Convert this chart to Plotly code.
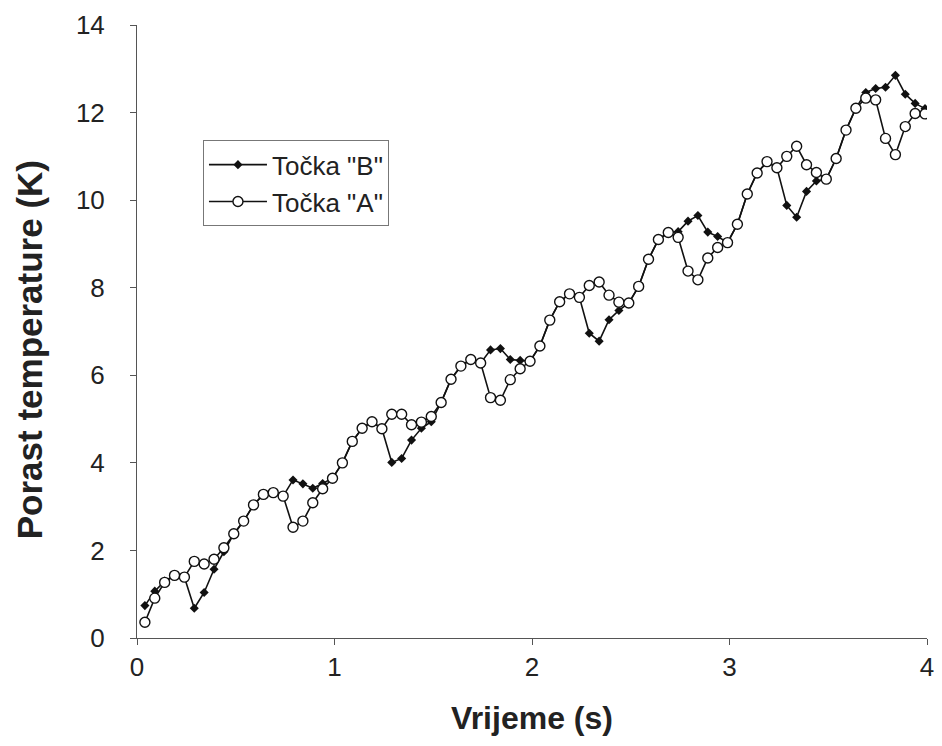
import plotly.graph_objects as go

# time (s)
t = [0.04, 0.09, 0.14, 0.19, 0.24, 0.29, 0.34, 0.39, 0.44, 0.49,
     0.54, 0.59, 0.64, 0.69, 0.74, 0.79, 0.84, 0.89, 0.94, 0.99,
     1.04, 1.09, 1.14, 1.19, 1.24, 1.29, 1.34, 1.39, 1.44, 1.49,
     1.54, 1.59, 1.64, 1.69, 1.74, 1.79, 1.84, 1.89, 1.94, 1.99,
     2.04, 2.09, 2.14, 2.19, 2.24, 2.29, 2.34, 2.39, 2.44, 2.49,
     2.54, 2.59, 2.64, 2.69, 2.74, 2.79, 2.84, 2.89, 2.94, 2.99,
     3.04, 3.09, 3.14, 3.19, 3.24, 3.29, 3.34, 3.39, 3.44, 3.49,
     3.54, 3.59, 3.64, 3.69, 3.74, 3.79, 3.84, 3.89, 3.94, 3.99]

# Točka "B" (filled diamonds)
tocka_b = [0.74, 1.07, 1.30, 1.43, 1.39, 0.68, 1.04, 1.57, 1.97, 2.38,
           2.67, 3.04, 3.28, 3.32, 3.24, 3.61, 3.52, 3.42, 3.53, 3.65,
           4.00, 4.49, 4.79, 4.94, 4.78, 4.01, 4.10, 4.52, 4.79, 4.94,
           5.38, 5.91, 6.21, 6.36, 6.28, 6.58, 6.61, 6.36, 6.34, 6.32,
           6.67, 7.26, 7.68, 7.86, 7.78, 6.96, 6.78, 7.27, 7.48, 7.65,
           8.03, 8.65, 9.10, 9.26, 9.28, 9.52, 9.65, 9.27, 9.17, 9.03,
           9.45, 10.14, 10.62, 10.88, 10.74, 9.88, 9.61, 10.20, 10.44, 10.48,
           10.95, 11.60, 12.10, 12.46, 12.55, 12.58, 12.85, 12.42, 12.21, 12.09]

# Točka "A" (open circles)
tocka_a = [0.36, 0.91, 1.27, 1.43, 1.39, 1.75, 1.69, 1.80, 2.06, 2.38,
           2.67, 3.04, 3.28, 3.32, 3.24, 2.53, 2.67, 3.09, 3.41, 3.65,
           4.00, 4.49, 4.79, 4.94, 4.78, 5.11, 5.11, 4.87, 4.93, 5.06,
           5.38, 5.91, 6.21, 6.36, 6.28, 5.49, 5.43, 5.90, 6.15, 6.32,
           6.67, 7.26, 7.68, 7.86, 7.78, 8.05, 8.13, 7.83, 7.67, 7.65,
           8.03, 8.65, 9.10, 9.26, 9.15, 8.38, 8.18, 8.68, 8.92, 9.03,
           9.45, 10.14, 10.62, 10.88, 10.74, 11.00, 11.23, 10.81, 10.63, 10.48,
           10.95, 11.60, 12.10, 12.33, 12.29, 11.41, 11.04, 11.68, 11.98, 11.97]

x_ticks = [0, 1, 2, 3, 4]
y_ticks = [0, 2, 4, 6, 8, 10, 12, 14]

FONT = "Liberation Sans, Arial, sans-serif"

fig = go.Figure()
fig.add_trace(go.Scatter(
    x=t, y=tocka_b, name='Točka "B"', mode="lines+markers",
    line=dict(color="#111111", width=1.6),
    marker=dict(symbol="diamond", size=7, color="#111111",
                line=dict(color="#111111", width=0)),
))
fig.add_trace(go.Scatter(
    x=t, y=tocka_a, name='Točka "A"', mode="lines+markers",
    line=dict(color="#111111", width=1.6),
    marker=dict(symbol="circle", size=10, color="white",
                line=dict(color="#111111", width=1.4)),
))

# page body has an 8px margin: figure is drawn at (8, 8) on the page
fig.update_layout(
    width=934, height=730,
    margin=dict(l=129, r=15, t=17, b=100),
    paper_bgcolor="white", plot_bgcolor="white",
    font=dict(family=FONT, color="#222222"),
    showlegend=True,
    legend=dict(
        x=0.0835, y=0.812, xanchor="left", yanchor="top",
        bgcolor="white", bordercolor="#777777", borderwidth=1,
        font=dict(size=26, family=FONT, color="#222222"),
        itemwidth=58, tracegroupgap=0,
    ),
    xaxis=dict(
        range=[0, 4], tickmode="array", tickvals=x_ticks,
        showgrid=False, zeroline=False, automargin=False,
        showline=True, linecolor="#555555", linewidth=1,
        ticks="outside", ticklen=6, tickcolor="#555555",
        ticklabelstandoff=0,
        tickfont=dict(size=26, family=FONT, color="#222222"),
        title=dict(text="<b>Vrijeme (s)</b>", standoff=25,
                   font=dict(size=32, family=FONT, color="#222222")),
    ),
    yaxis=dict(
        range=[0, 14], tickmode="array", tickvals=y_ticks,
        showgrid=False, zeroline=False, automargin=False,
        showline=True, linecolor="#555555", linewidth=1,
        ticks="outside", ticklen=6, tickcolor="#555555",
        ticklabelstandoff=20,
        tickfont=dict(size=26, family=FONT, color="#222222"),
    ),
    annotations=[dict(
        text="<b>Porast temperature (K)</b>", textangle=-90,
        xref="paper", yref="paper", x=-0.135, y=0.47,
        xanchor="center", yanchor="middle", showarrow=False,
        font=dict(size=35, family=FONT, color="#222222"),
    )],
)

fig.write_html("out.html")
